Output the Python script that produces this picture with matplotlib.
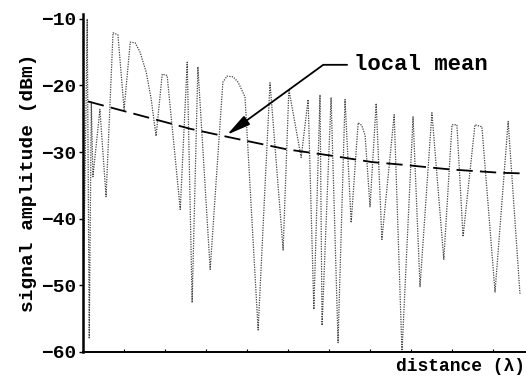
import numpy as np
import matplotlib.pyplot as plt

# distance in units of tick spacing, signal in dBm
distance = [0.00, 0.10, 0.15, 0.20, 0.24, 0.41, 0.56, 0.73, 0.85, 1.00,
            1.15, 1.27, 1.39, 1.54, 1.66, 1.78, 1.93, 2.05, 2.37, 2.54,
            2.66, 2.80, 3.10, 3.41, 3.51, 3.66, 3.78, 3.95, 4.27, 4.56,
            4.88, 5.02, 5.32, 5.49, 5.63, 5.78, 5.83, 6.05, 6.22, 6.39,
            6.54, 6.71, 6.80, 6.88, 7.00, 7.15, 7.29, 7.59, 7.78, 8.05,
            8.22, 8.51, 8.80, 9.00, 9.12, 9.27, 9.56, 9.73, 10.05, 10.37,
            10.66]
signal = [-55.0, -10.0, -58.0, -22.5, -33.7, -23.6, -36.7, -12.1, -12.4, -23.6,
          -13.5, -13.6, -15.0, -18.0, -22.0, -27.6, -18.3, -18.5, -38.6, -16.5,
          -52.6, -17.2, -47.6, -19.5, -18.6, -18.7, -19.5, -21.7, -56.7, -19.6,
          -44.7, -20.6, -30.8, -22.1, -53.6, -21.4, -56.0, -21.8, -58.6, -22.1,
          -40.6, -25.6, -26.0, -27.5, -38.2, -22.7, -43.1, -24.4, -60.0, -24.7,
          -50.2, -24.1, -46.1, -25.9, -25.9, -42.7, -25.9, -26.2, -51.0, -25.4,
          -51.4]

mean_dist = [0.12, 2.61, 3.51, 4.98, 6.02, 7.05, 7.80, 8.95, 10.17, 10.73]
mean_sig = [-22.4, -26.5, -27.7, -29.6, -30.5, -31.5, -31.9, -32.6, -33.1, -33.2]

yticks = [-10, -20, -30, -40, -50, -60]

plt.rcParams['font.family'] = ['Liberation Mono', 'DejaVu Sans Mono']

fig = plt.figure(figsize=(5.26, 3.83), dpi=100)
ax = fig.add_axes([0.158, 0.081, 0.84, 0.882])

ax.plot(distance, signal, linestyle=(0, (1, 1)), color='#444444', linewidth=0.9)
ax.plot(mean_dist, mean_sig, linestyle=(0, (9, 4)), color='black', linewidth=1.3)

ax.annotate('local mean', xy=(3.51, -27.4), xytext=(6.61, -16.9),
            fontsize=16, va='center', ha='left', fontweight='bold',
            arrowprops=dict(arrowstyle='-|>,head_length=0.9,head_width=0.2',
                            connectionstyle='angle,angleA=0,angleB=36,rad=0',
                            color='black', lw=1.3, relpos=(0, 0.5),
                            shrinkA=3, shrinkB=0))

ax.set_xlim(0, 10.78)
ax.set_ylim(-60, -9.3)
ax.set_yticks(yticks)
ax.set_xticks(np.arange(1, 11))
ax.tick_params(axis='y', direction='out', length=3, width=1, pad=2, labelsize=14)
ax.tick_params(axis='x', direction='in', length=2, width=0.8, labelbottom=False)
for lab in ax.get_yticklabels():
    lab.set_fontweight('bold')

ax.spines['top'].set_visible(False)
ax.spines['right'].set_visible(False)
ax.spines['left'].set_linewidth(1.8)
ax.spines['bottom'].set_linewidth(1.4)

ax.set_ylabel('signal amplitude (dBm)', fontsize=14, fontweight='bold', labelpad=3)
ax.set_xlabel('distance (\u03bb)', fontsize=13, fontweight='bold', loc='right', labelpad=4)

fig.savefig('out.png', dpi=100)
